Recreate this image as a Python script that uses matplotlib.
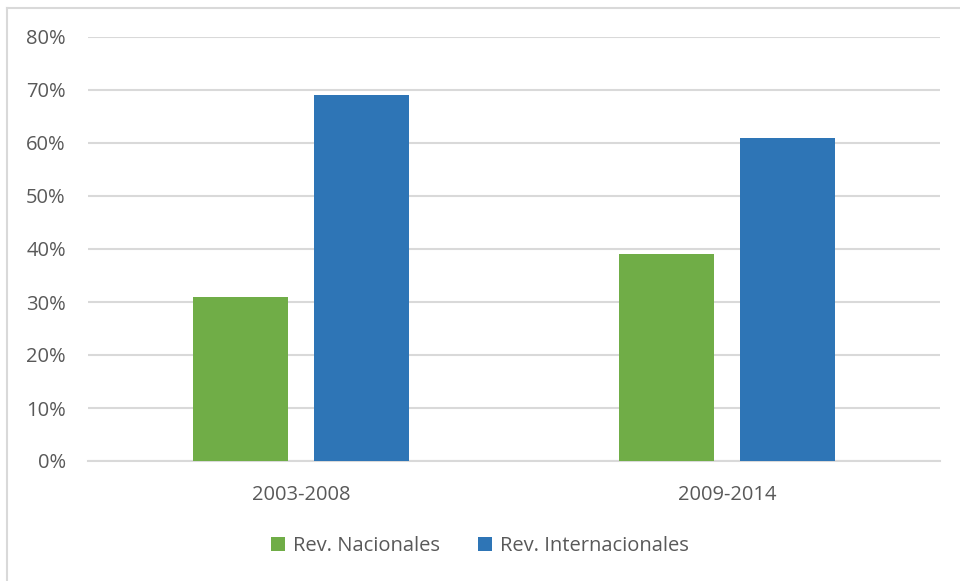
import matplotlib
matplotlib.use("Agg")
import matplotlib.pyplot as plt
from matplotlib.lines import Line2D
from matplotlib.ticker import PercentFormatter
import numpy as np

# --- Data ---
periods = ['2003-2008', '2009-2014']
nacionales = [31, 39]
internacionales = [69, 61]
series_names = ['Rev. Nacionales', 'Rev. Internacionales']

green = '#70AD47'
blue = '#2E75B6'
grid_c = '#D9D9D9'
text_c = '#595959'

plt.rcParams['font.family'] = ['Open Sans', 'DejaVu Sans']

fig = plt.figure(figsize=(9.6, 5.81), dpi=100)
ax = fig.add_axes([88/960, 1-461/581, (940-88)/960, (461-37)/581])

x = np.arange(len(periods))
w = 0.223
off = 0.142
ax.bar(x - off, nacionales, w, color=green, label=series_names[0], zorder=3)
ax.bar(x + off, internacionales, w, color=blue, label=series_names[1], zorder=3)

ax.set_xlim(-0.5, 1.5)
ax.set_ylim(0, 80)
ax.set_yticks(np.arange(0, 81, 10))
ax.yaxis.set_major_formatter(PercentFormatter(decimals=0))
ax.set_xticks(x)
ax.set_xticklabels(periods)

ax.yaxis.grid(True, color=grid_c, linewidth=1.5, zorder=0)
for s in ['top', 'right', 'left']:
    ax.spines[s].set_visible(False)
ax.spines['bottom'].set_color(grid_c)
ax.spines['bottom'].set_linewidth(1.5)
ax.tick_params(axis='both', length=0, labelsize=14.5, labelcolor=text_c)
ax.tick_params(axis='y', pad=16)
ax.tick_params(axis='x', pad=17)

fig.legend(loc='center', bbox_to_anchor=(0.5, 1-546/581), ncol=2, frameon=False,
           fontsize=14.5, labelcolor=text_c, handlelength=0.7, handleheight=0.7,
           handletextpad=0.4, columnspacing=1.9)

# light border on top and left like the source image
fig.add_artist(Line2D([7/960, 1], [1-8/581, 1-8/581], color='#D9D9D9', linewidth=1.5))
fig.add_artist(Line2D([7/960, 7/960], [0, 1-8/581], color='#D9D9D9', linewidth=1.5))

fig.savefig('out.png', dpi=100)
